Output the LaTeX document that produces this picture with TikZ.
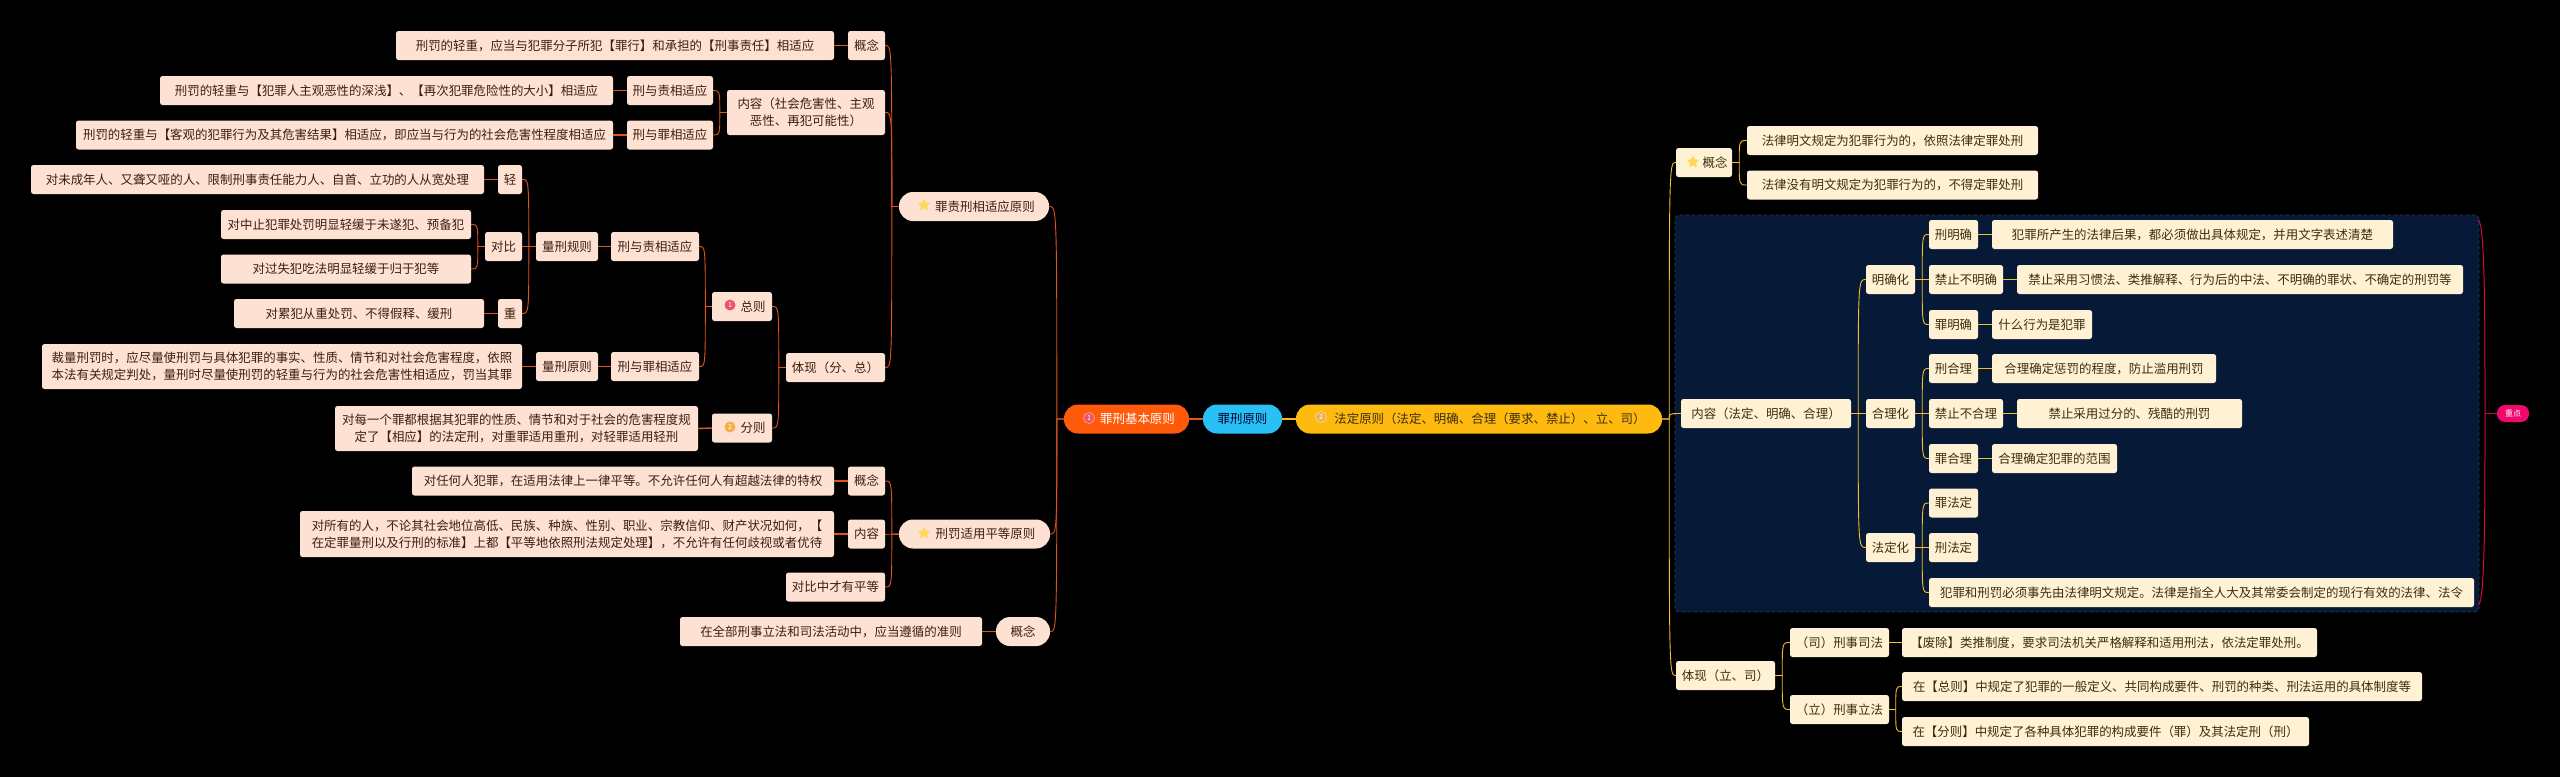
\documentclass[tikz,border=0pt]{standalone}
\usepackage{fontspec}
\setmainfont{Noto Sans CJK SC}
\usepackage{xcolor}
\usetikzlibrary{shapes.geometric}
\definecolor{leftfill}{RGB}{253,226,211}
\definecolor{lefttext}{RGB}{60,30,14}
\definecolor{leftline}{RGB}{226,84,30}
\definecolor{rightfill}{RGB}{255,242,212}
\definecolor{righttext}{RGB}{60,46,12}
\definecolor{rightline}{RGB}{246,190,40}
\definecolor{rootred}{RGB}{255,90,10}
\definecolor{rootblue}{RGB}{41,192,245}
\definecolor{rootyellow}{RGB}{255,186,16}
\definecolor{panelblue}{RGB}{6,25,55}
\definecolor{keypink}{RGB}{240,8,108}
\definecolor{starcolor}{RGB}{255,214,90}
\definecolor{dotred}{RGB}{238,84,104}
\definecolor{dotorange}{RGB}{243,176,74}
\newcommand{\mapfont}{\fontsize{12.45}{17}\selectfont}
\tikzset{
  lbox/.style={rectangle,rounded corners=2.5pt,fill=leftfill,text=lefttext,inner sep=0pt,
    minimum height=29pt,align=center,font=\mapfont},
  rbox/.style={rectangle,rounded corners=2.5pt,fill=rightfill,text=righttext,inner sep=0pt,
    minimum height=29pt,align=center,font=\mapfont},
  pillbox/.style={rectangle,rounded corners=14pt,inner sep=0pt,minimum height=29pt,
    align=center,font=\mapfont},
  ledge/.style={leftline,line width=1.4pt},
  redge/.style={rightline,line width=1.4pt},
  lcurve/.style={leftline,line width=0.9pt},
  rcurve/.style={rightline,line width=0.9pt},
  branch/.style={to path={-- ++(#1,0) coordinate (tk) .. controls (tk |- \tikztotarget) .. (\tikztotarget)}},
  dotn/.style={circle,inner sep=0pt,minimum size=11pt,text=white,font=\fontsize{7}{7}\selectfont},
  starn/.style={star,star points=5,star point ratio=2,inner sep=0pt,minimum size=13pt,fill=starcolor}
}
\begin{document}
\begin{tikzpicture}[x=1pt,y=-1pt]
  \fill[black] (0,0) rectangle (2560,777);
  \node[rectangle,rounded corners=4pt,fill=panelblue,draw=gray!35!panelblue,dashed,line width=0.7pt,
    inner sep=0pt,minimum width=804pt,minimum height=397pt] (panel) at (2077,413.5) {};

  \node[pillbox,fill=rootred,text=white,minimum width=125pt] (basic) at (1126.5,419) {\hspace*{22pt}罪刑基本原则};
  \node[pillbox,fill=rootblue,text=black!80!blue,minimum width=79pt] (rootn) at (1242.5,419) {罪刑原则};
  \node[pillbox,fill=rootyellow,text=righttext,minimum width=366pt] (legal) at (1479,419) {\hspace*{22pt}法定原则（法定、明确、合理（要求、禁止）、立、司）};
  \node[dotn,fill=dotred,draw=white!70!dotred] (dotbasic) at (1089,418) {1};
  \node[dotn,fill=dotorange,draw=white!70!dotorange] (dotlegal) at (1321,417) {2};

  \node[pillbox,fill=leftfill,text=lefttext,minimum width=150pt] (crime) at (974,206.5) {\hspace*{22pt}罪责刑相适应原则};
  \node[pillbox,fill=leftfill,text=lefttext,minimum width=151pt] (equal) at (974.5,534) {\hspace*{22pt}刑罚适用平等原则};
  \node[pillbox,fill=leftfill,text=lefttext,minimum width=54pt] (concc) at (1023,631.5) {概念};
  \node[starn] (starcrime) at (924,205) {};
  \node[starn] (starequal) at (924,533) {};

  \node[lbox,minimum width=37pt] (conca) at (866.5,45.5) {概念};
  \node[lbox,minimum width=438pt] (concat) at (615,45.5) {刑罚的轻重，应当与犯罪分子所犯【罪行】和承担的【刑事责任】相适应};
  \node[lbox,minimum width=158pt,minimum height=45pt] (conta) at (806,112.5) {内容（社会危害性、主观\\恶性、再犯可能性）};
  \node[lbox,minimum width=86pt] (dutya) at (670,90.5) {刑与责相适应};
  \node[lbox,minimum width=86pt] (guilta) at (670,135) {刑与罪相适应};
  \node[lbox,minimum width=453pt] (dutyat) at (386.5,90.5) {刑罚的轻重与【犯罪人主观恶性的深浅】、【再次犯罪危险性的大小】相适应};
  \node[lbox,minimum width=537pt] (guiltat) at (344.5,135) {刑罚的轻重与【客观的犯罪行为及其危害结果】相适应，即应当与行为的社会危害性程度相适应};

  \node[lbox,minimum width=99pt] (showa) at (835.5,367.5) {体现（分、总）};
  \node[lbox,minimum width=60pt] (general) at (742,306.5) {\hspace*{22pt}总则};
  \node[lbox,minimum width=60pt] (special) at (742,428) {\hspace*{22pt}分则};
  \node[dotn,fill=dotred] (dotgen) at (730,305) {1};
  \node[dotn,fill=dotorange] (dotspe) at (730,427) {2};
  \node[lbox,minimum width=363pt,minimum height=45pt] (specialt) at (516.5,428.5) {对每一个罪都根据其犯罪的性质、情节和对于社会的危害程度规\\定了【相应】的法定刑，对重罪适用重刑，对轻罪适用轻刑};
  \node[lbox,minimum width=88pt] (dutyb) at (655,246.5) {刑与责相适应};
  \node[lbox,minimum width=88pt] (guiltb) at (655,366.5) {刑与罪相适应};
  \node[lbox,minimum width=62pt] (rulen) at (567,246.5) {量刑规则};
  \node[lbox,minimum width=62pt] (prin) at (567,366.5) {量刑原则};
  \node[lbox,minimum width=480pt,minimum height=45pt] (print) at (282,366.5) {裁量刑罚时，应尽量使刑罚与具体犯罪的事实、性质、情节和对社会危害程度，依照\\本法有关规定判处，量刑时尽量使刑罚的轻重与行为的社会危害性相适应，罚当其罪};
  \node[lbox,minimum width=24pt] (light) at (510,179.5) {轻};
  \node[lbox,minimum width=453pt] (lightt) at (257.5,179.5) {对未成年人、又聋又哑的人、限制刑事责任能力人、自首、立功的人从宽处理};
  \node[lbox,minimum width=37pt] (compare) at (503.5,246.5) {对比};
  \node[lbox,minimum width=250pt] (compa) at (346,224.5) {对中止犯罪处罚明显轻缓于未遂犯、预备犯};
  \node[lbox,minimum width=250pt] (compb) at (346,269) {对过失犯吃法明显轻缓于归于犯等};
  \node[lbox,minimum width=24pt] (heavy) at (510,313.5) {重};
  \node[lbox,minimum width=250pt] (heavyt) at (359,313.5) {对累犯从重处罚、不得假释、缓刑};

  \node[lbox,minimum width=37pt] (concb) at (866.5,481) {概念};
  \node[lbox,minimum width=422pt] (concbt) at (623,481) {对任何人犯罪，在适用法律上一律平等。不允许任何人有超越法律的特权};
  \node[lbox,minimum width=37pt] (contb) at (866.5,534) {内容};
  \node[lbox,minimum width=534pt,minimum height=46pt] (contbt) at (567,534) {对所有的人，不论其社会地位高低、民族、种族、性别、职业、宗教信仰、财产状况如何，【\\在定罪量刑以及行刑的标准】上都【平等地依照刑法规定处理】，不允许有任何歧视或者优待};
  \node[lbox,minimum width=99pt] (onlyeq) at (835.5,587) {对比中才有平等};
  \node[lbox,minimum width=302pt] (conct) at (831,631.5) {在全部刑事立法和司法活动中，应当遵循的准则};

  \node[rbox,minimum width=56pt] (concr) at (1704,162.5) {\hspace*{22pt}概念};
  \node[starn] (starconc) at (1693,162) {};
  \node[rbox,minimum width=291pt] (conca2) at (1892.5,140.5) {法律明文规定为犯罪行为的，依照法律定罪处刑};
  \node[rbox,minimum width=291pt] (concb2) at (1892.5,185) {法律没有明文规定为犯罪行为的，不得定罪处刑};

  \node[rbox,minimum width=170pt] (contr) at (1766,413.5) {内容（法定、明确、合理）};
  \node[rbox,minimum width=49pt] (clear) at (1890.5,279.5) {明确化};
  \node[rbox,minimum width=49pt] (reason) at (1890.5,413.5) {合理化};
  \node[rbox,minimum width=49pt] (statute) at (1890.5,547.5) {法定化};

  \node[rbox,minimum width=49pt] (penclear) at (1953.5,234.5) {刑明确};
  \node[rbox,minimum width=401pt] (penclrt) at (2192.5,234.5) {犯罪所产生的法律后果，都必须做出具体规定，并用文字表述清楚};
  \node[rbox,minimum width=74pt] (banclear) at (1966,279.5) {禁止不明确};
  \node[rbox,minimum width=446pt] (banclrt) at (2240,279.5) {禁止采用习惯法、类推解释、行为后的中法、不明确的罪状、不确定的刑罚等};
  \node[rbox,minimum width=49pt] (guiclear) at (1953.5,324.5) {罪明确};
  \node[rbox,minimum width=100pt] (guiclrt) at (2042,324.5) {什么行为是犯罪};

  \node[rbox,minimum width=49pt] (penreas) at (1953.5,368.5) {刑合理};
  \node[rbox,minimum width=224pt] (penreat) at (2104,368.5) {合理确定惩罚的程度，防止滥用刑罚};
  \node[rbox,minimum width=74pt] (banreas) at (1966,413.5) {禁止不合理};
  \node[rbox,minimum width=225pt] (banreat) at (2129.5,413.5) {禁止采用过分的、残酷的刑罚};
  \node[rbox,minimum width=49pt] (guireas) at (1953.5,458.5) {罪合理};
  \node[rbox,minimum width=125pt] (guireat) at (2054.5,458.5) {合理确定犯罪的范围};

  \node[rbox,minimum width=49pt] (guistat) at (1953.5,503) {罪法定};
  \node[rbox,minimum width=49pt] (penstat) at (1953.5,547.5) {刑法定};
  \node[rbox,minimum width=545pt] (stattext) at (2201.5,592.5) {犯罪和刑罚必须事先由法律明文规定。法律是指全人大及其常委会制定的现行有效的法律、法令};

  \node[rbox,minimum width=99pt] (showr) at (1725.5,675.5) {体现（立、司）};
  \node[rbox,minimum width=99pt] (judic) at (1839.5,642.5) {（司）刑事司法};
  \node[rbox,minimum width=415pt] (judict) at (2109.5,642.5) {【废除】类推制度，要求司法机关严格解释和适用刑法，依法定罪处刑。};
  \node[rbox,minimum width=99pt] (legis) at (1839.5,709.5) {（立）刑事立法};
  \node[rbox,minimum width=520pt] (legisa) at (2162,686.5) {在【总则】中规定了犯罪的一般定义、共同构成要件、刑罚的种类、刑法运用的具体制度等};
  \node[rbox,minimum width=407pt] (legisb) at (2105.5,731.5) {在【分则】中规定了各种具体犯罪的构成要件（罪）及其法定刑（刑）};

  \node[pillbox,rounded corners=8pt,fill=keypink,text=white,minimum width=32pt,minimum height=17pt,font=\fontsize{8}{8}\selectfont] (keyn) at (2513,413.5) {重点};
  \coordinate (bracetop) at (2478,220);
  \coordinate (bracemid) at (2485,413.5);
  \coordinate (bracebot) at (2478,605);
  \draw[keypink!85!black,line width=1pt] (keyn.west) -- (bracemid);
  \draw[keypink!85!black,line width=1pt] (bracetop) .. controls (bracemid |- bracetop) and (2485,320) .. (bracemid)
    .. controls (2485,510) and (bracemid |- bracebot) .. (bracebot);

  \draw[ledge] (basic.east) -- (rootn.west);
  \draw[rootyellow,line width=1.4pt] (rootn.east) -- (legal.west);
  \draw[lcurve] (basic.west) to[branch=-7] (crime.east);
  \draw[lcurve] (basic.west) to[branch=-7] (equal.east);
  \draw[lcurve] (basic.west) to[branch=-7] (concc.east);
  \draw[lcurve] (crime.west) to[branch=-7] (conca.east);
  \draw[lcurve] (crime.west) to[branch=-7] (conta.east);
  \draw[lcurve] (crime.west) to[branch=-7] (showa.east);
  \draw[ledge] (conca.west) -- (concat.east);
  \draw[lcurve] (conta.west) to[branch=-7] (dutya.east);
  \draw[lcurve] (conta.west) to[branch=-7] (guilta.east);
  \draw[ledge] (dutya.west) -- (dutyat.east);
  \draw[ledge] (guilta.west) -- (guiltat.east);
  \draw[lcurve] (showa.west) to[branch=-7] (general.east);
  \draw[lcurve] (showa.west) to[branch=-7] (special.east);
  \draw[lcurve] (general.west) to[branch=-6.5] (dutyb.east);
  \draw[lcurve] (general.west) to[branch=-6.5] (guiltb.east);
  \draw[ledge] (special.west) -- (specialt.east);
  \draw[ledge] (dutyb.west) -- (rulen.east);
  \draw[ledge] (guiltb.west) -- (prin.east);
  \draw[ledge] (prin.west) -- (print.east);
  \draw[lcurve] (rulen.west) to[branch=-7] (light.east);
  \draw[lcurve] (rulen.west) to[branch=-7] (compare.east);
  \draw[lcurve] (rulen.west) to[branch=-7] (heavy.east);
  \draw[ledge] (light.west) -- (lightt.east);
  \draw[lcurve] (compare.west) to[branch=-7] (compa.east);
  \draw[lcurve] (compare.west) to[branch=-7] (compb.east);
  \draw[ledge] (heavy.west) -- (heavyt.east);
  \draw[lcurve] (equal.west) to[branch=-7] (concb.east);
  \draw[lcurve] (equal.west) to[branch=-7] (contb.east);
  \draw[lcurve] (equal.west) to[branch=-7] (onlyeq.east);
  \draw[ledge] (concb.west) -- (concbt.east);
  \draw[ledge] (contb.west) -- (contbt.east);
  \draw[ledge] (concc.west) -- (conct.east);

  \draw[rcurve] (legal.east) to[branch=7] (concr.west);
  \draw[rcurve] (legal.east) to[branch=7] (contr.west);
  \draw[rcurve] (legal.east) to[branch=7] (showr.west);
  \draw[rcurve] (concr.east) to[branch=7] (conca2.west);
  \draw[rcurve] (concr.east) to[branch=7] (concb2.west);
  \draw[rcurve] (contr.east) to[branch=7] (clear.west);
  \draw[rcurve] (contr.east) to[branch=7] (reason.west);
  \draw[rcurve] (contr.east) to[branch=7] (statute.west);
  \draw[rcurve] (clear.east) to[branch=7] (penclear.west);
  \draw[rcurve] (clear.east) to[branch=7] (banclear.west);
  \draw[rcurve] (clear.east) to[branch=7] (guiclear.west);
  \draw[redge] (penclear.east) -- (penclrt.west);
  \draw[redge] (banclear.east) -- (banclrt.west);
  \draw[redge] (guiclear.east) -- (guiclrt.west);
  \draw[rcurve] (reason.east) to[branch=7] (penreas.west);
  \draw[rcurve] (reason.east) to[branch=7] (banreas.west);
  \draw[rcurve] (reason.east) to[branch=7] (guireas.west);
  \draw[redge] (penreas.east) -- (penreat.west);
  \draw[redge] (banreas.east) -- (banreat.west);
  \draw[redge] (guireas.east) -- (guireat.west);
  \draw[rcurve] (statute.east) to[branch=7] (guistat.west);
  \draw[rcurve] (statute.east) to[branch=7] (penstat.west);
  \draw[rcurve] (statute.east) to[branch=7] (stattext.west);
  \draw[rcurve] (showr.east) to[branch=7] (judic.west);
  \draw[rcurve] (showr.east) to[branch=7] (legis.west);
  \draw[redge] (judic.east) -- (judict.west);
  \draw[rcurve] (legis.east) to[branch=6.5] (legisa.west);
  \draw[rcurve] (legis.east) to[branch=6.5] (legisb.west);
\end{tikzpicture}
\end{document}
